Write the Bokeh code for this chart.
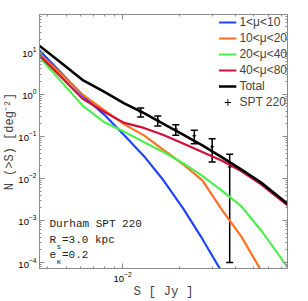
from bokeh.plotting import figure
from bokeh.models import (LogAxis, FixedTicker, Label, Legend, LegendItem,
                          Whisker, ColumnDataSource, TeeHead, Range1d)
from bokeh.embed import file_html
from bokeh.resources import INLINE

nan = float("nan")

# flux density S [Jy]
S = [0.0036, 0.0047, 0.0061, 0.0080, 0.0102, 0.0130, 0.0165, 0.0210,
     0.0266, 0.0339, 0.0430, 0.0547, 0.0756]
# cumulative counts N(>S) [deg^-2]
n_mu1_10 = [11.2, 3.25, 0.946, 0.325, 0.1056, 0.0338, 0.00901, 0.00194,
            3.63e-4, 5.78e-5, nan, nan, nan]
n_mu10_20 = [9.31, 3.06, 1.0, 0.416, 0.193, 0.1056, 0.0477, 0.0217,
             0.00896, 0.00177, 4.07e-4, 6.45e-5, nan]
n_mu20_40 = [7.73, 2.03, 0.547, 0.2154, 0.128, 0.0728, 0.0423, 0.023,
             0.01148, 0.00504, 0.00215, 5.78e-4, 7.73e-5]
n_mu40_80 = [8.49, 2.58, 0.79, 0.379, 0.2094, 0.1585, 0.108, 0.0678,
             0.0423, 0.0262, 0.0147, 0.0072, 0.00228]
n_total = [14.3, 5.62, 2.21, 1.135, 0.611, 0.357, 0.1985, 0.1097,
           0.0611, 0.0316, 0.0161, 0.00794, 0.0025]

# SPT 220 GHz counts
S_spt = [0.01248, 0.0154, 0.0192, 0.0241, 0.0300, 0.0372]
N_spt = [0.380, 0.240, 0.148, 0.103, 0.0563, 0.0187]
E_spt = [0.092, 0.064, 0.042, 0.036, 0.0318, 0.0186]

series = [
    ("1<\u03bc<10", n_mu1_10, "#1f44ff", 2.2),
    ("10<\u03bc<20", n_mu10_20, "#ff7020", 2.2),
    ("20<\u03bc<40", n_mu20_40, "#4cf04c", 2.2),
    ("40<\u03bc<80", n_mu40_80, "#d0103a", 2.2),
    ("Total", n_total, "#000000", 2.6),
]

p = figure(width=308, height=301, output_backend="svg",
           toolbar_location=None, x_axis_type="log", y_axis_type="log",
           x_range=Range1d(0.003607, 0.0756), y_range=Range1d(7.2e-5, 79.0),
           min_border_left=33, min_border_right=21, min_border_top=14,
           min_border_bottom=33)
p.background_fill_color = "white"
p.border_fill_color = "white"
p.outline_line_color = "#8a8a8a"
p.outline_line_width = 1
p.xgrid.visible = False
p.ygrid.visible = False

x_major = [0.01]
x_minor = [0.004, 0.005, 0.006, 0.007, 0.008, 0.009,
           0.02, 0.03, 0.04, 0.05, 0.06, 0.07]
y_major = [1e-4, 1e-3, 1e-2, 1e-1, 1.0, 10.0]
y_minor = [m * 10.0 ** e for e in range(-5, 2) for m in range(2, 10)]

def style_axis(ax, show_labels=True):
    ax.axis_line_color = "#8a8a8a"
    ax.major_tick_line_color = "#8a8a8a"
    ax.minor_tick_line_color = "#8a8a8a"
    ax.major_tick_in = 5
    ax.major_tick_out = 0
    ax.minor_tick_in = 2
    ax.minor_tick_out = 0
    ax.major_label_text_font = "Liberation Sans"
    if show_labels:
        ax.major_label_text_font_size = "9.5px"
        ax.major_label_text_color = "#000000"
        ax.major_label_standoff = 3
    else:
        ax.major_label_text_font_size = "1px"
        ax.major_label_text_alpha = 0
        ax.major_label_standoff = 0

p.xaxis.ticker = FixedTicker(ticks=x_major, minor_ticks=x_minor)
p.yaxis.ticker = FixedTicker(ticks=y_major, minor_ticks=y_minor)
style_axis(p.xaxis[0])
style_axis(p.yaxis[0])
p.xaxis.major_label_standoff = 3
p.xaxis.axis_label = "S [ Jy ]"
p.xaxis.axis_label_text_font = "Liberation Mono"
p.xaxis.axis_label_text_font_size = "12.5px"
p.xaxis.axis_label_text_font_style = "normal"
p.xaxis.axis_label_standoff = 0

p.yaxis.axis_label = "N (>S) [deg\u207b\u00b2]"
p.yaxis.axis_label_text_font = "Liberation Mono"
p.yaxis.axis_label_text_font_size = "12px"
p.yaxis.axis_label_text_font_style = "normal"
p.yaxis.axis_label_standoff = -2

top_ax = LogAxis(ticker=FixedTicker(ticks=x_major, minor_ticks=x_minor))
style_axis(top_ax, show_labels=False)
p.add_layout(top_ax, "above")
right_ax = LogAxis(ticker=FixedTicker(ticks=y_major, minor_ticks=y_minor))
style_axis(right_ax, show_labels=False)
p.add_layout(right_ax, "right")

items = []
for name, vals, col, lw in series:
    r = p.line(S, vals, line_color=col, line_width=lw)
    items.append(LegendItem(label=name, renderers=[r]))

up = [n + e for n, e in zip(N_spt, E_spt)]
lo = [n - e for n, e in zip(N_spt, E_spt)]
src = ColumnDataSource(data=dict(x=S_spt, y=N_spt, upper=up, lower=lo))
wh = Whisker(base="x", upper="upper", lower="lower", source=src,
             dimension="height", line_color="black", line_width=1.5,
             upper_head=TeeHead(size=7, line_color="black", line_width=1.5),
             lower_head=TeeHead(size=7, line_color="black", line_width=1.5))
p.add_layout(wh)
rs = p.scatter("x", "y", source=src, marker="cross", size=4,
               line_color="black", line_width=1)
items.append(LegendItem(label="SPT 220", renderers=[rs]))

leg = Legend(items=items, location="top_right")
leg.background_fill_alpha = 0
leg.border_line_color = None
leg.label_text_font = "Liberation Sans"
leg.label_text_font_size = "12px"
leg.glyph_width = 18
leg.glyph_height = 16
leg.label_height = 16
leg.label_standoff = 3
leg.spacing = 0
leg.padding = 5
leg.margin = 0
p.add_layout(leg)

mono = "Liberation Mono"
def lab(txt, x, y, size="11px"):
    p.add_layout(Label(text=txt, x=x, y=y, x_units="screen", y_units="screen",
                       text_font=mono, text_font_size=size,
                       text_baseline="alphabetic", text_color="#222222"))

lab("Durham SPT 220", 10, 45)
lab("R", 10, 28.5)
lab("s", 17, 22, size="8px")
lab("=3.0 kpc", 22.5, 28.5)
lab("e", 10, 14)
lab("\u03ba", 17, 7.5, size="8px")
lab("=0.2", 22.5, 14)

open("out.html", "w").write(file_html(p, INLINE))
